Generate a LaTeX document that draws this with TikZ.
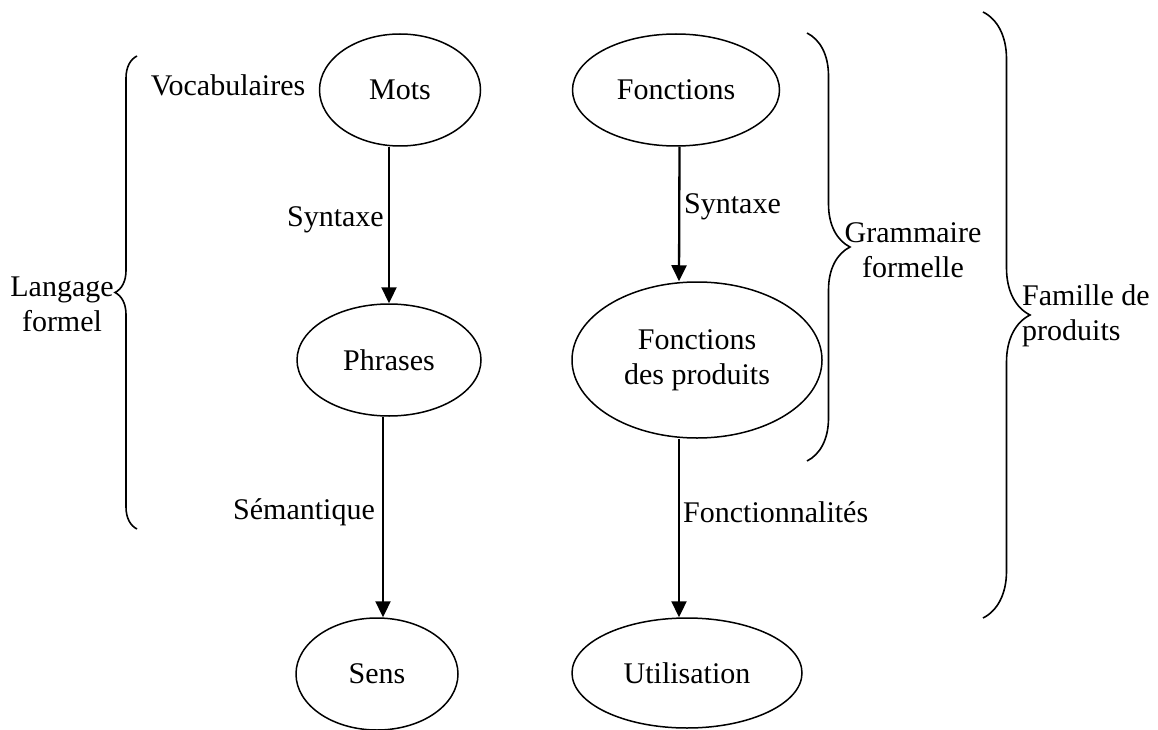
\documentclass[tikz,border=0pt]{standalone}
\usepackage{fontspec}
\setmainfont{Liberation Serif}
\usetikzlibrary{arrows.meta,decorations.pathreplacing,shapes.geometric}

\begin{document}
\begin{tikzpicture}[x=1pt,y=-1pt,
        font=\fontsize{30}{35}\selectfont,
        bulle/.style={draw,ellipse,line width=1.5pt,inner sep=0pt},
        fleche/.style={line width=2.3pt,-{Triangle[width=15pt,length=16pt]}},
        etiq/.style={inner sep=0pt},
        accolade/.style={decorate,line width=1.6pt}]
            \useasboundingbox (0,0) rectangle (1158,730);

            \node[bulle,minimum width=161pt,minimum height=112pt] (mots) at (400,90) {Mots};
            \node[bulle,minimum width=184pt,minimum height=112pt] (phrases) at (389,360) {Phrases};
            \node[bulle,minimum width=162pt,minimum height=112pt] (sens) at (377,674) {Sens};

            \node[bulle,minimum width=207pt,minimum height=112pt] (fonctions) at (676,90) {Fonctions};
            \node[bulle,minimum width=250pt,minimum height=156pt,align=center] (fprod) at (697,360) {Fonctions\\des produits};
            \node[bulle,minimum width=230pt,minimum height=110pt] (util) at (687,673) {Utilisation};

            \draw[fleche] (mots.south -| phrases.north) -- (phrases.north);
            \draw[fleche] ([xshift=-6pt]phrases.south) -- ([xshift=6pt]sens.north);
            \draw[fleche] ([xshift=3.5pt]fonctions.south) -- ([xshift=-18pt]fprod.north);
            \draw[fleche] ([xshift=-18pt]fprod.south) -- ([xshift=-8pt]util.north);

            \node[etiq] (voc) at (228,85) {Vocabulaires};
            \node[etiq,anchor=east] (syn1) at (384,220) {Syntaxe};
            \node[etiq,anchor=west] (syn2) at (684,207) {Syntaxe};
            \node[etiq,anchor=east] (sem) at (375,512) {Sémantique};
            \node[etiq,anchor=west] (fonc) at (683,512) {Fonctionnalités};

            \draw[accolade,decoration={brace,amplitude=22pt}] (137,529) -- (137,56);
            \draw[accolade,decoration={brace,amplitude=43pt}] (807,33) -- (807,461);
            \draw[accolade,decoration={brace,amplitude=47pt}] (983,12) -- (983,618);

            \node[etiq,align=center] (langage) at (62,304) {Langage\\formel};
            \node[etiq,align=center] (gram) at (913,250) {Grammaire\\formelle};
            \node[etiq,align=left,anchor=west] (famille) at (1022,316) {Famille de\\produits};
        \end{tikzpicture}
\end{document}
